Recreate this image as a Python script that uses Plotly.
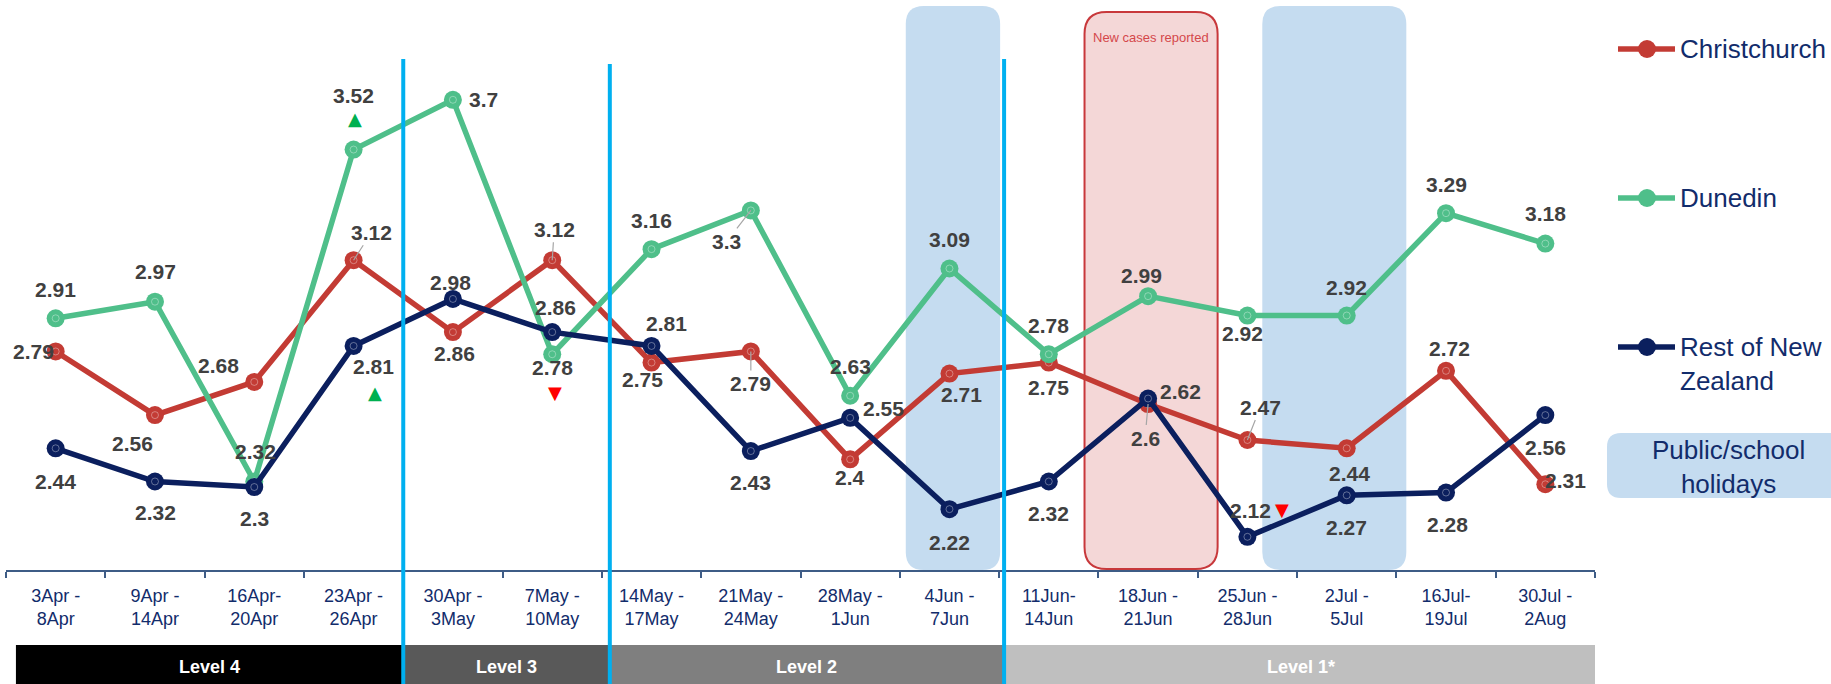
import plotly.graph_objects as go

# ---------------- data ----------------
periods = [
    "3Apr -<br>8Apr", "9Apr -<br>14Apr", "16Apr-<br>20Apr", "23Apr -<br>26Apr",
    "30Apr -<br>3May", "7May -<br>10May", "14May -<br>17May", "21May -<br>24May",
    "28May -<br>1Jun", "4Jun -<br>7Jun", "11Jun-<br>14Jun", "18Jun -<br>21Jun",
    "25Jun -<br>28Jun", "2Jul -<br>5Jul", "16Jul-<br>19Jul", "30Jul -<br>2Aug",
]
christchurch = [2.79, 2.56, 2.68, 3.12, 2.86, 3.12, 2.75, 2.79, 2.40, 2.71, 2.75, 2.60, 2.47, 2.44, 2.72, 2.31]
dunedin = [2.91, 2.97, 2.32, 3.52, 3.70, 2.78, 3.16, 3.30, 2.63, 3.09, 2.78, 2.99, 2.92, 2.92, 3.29, 3.18]
rest_of_nz = [2.44, 2.32, 2.30, 2.81, 2.98, 2.86, 2.81, 2.43, 2.55, 2.22, 2.32, 2.62, 2.12, 2.27, 2.28, 2.56]
series_names = ["Christchurch", "Dunedin", "Rest of New Zealand"]
legend_texts = ["Christchurch", "Dunedin", "Rest of New<br>Zealand"]
level_names = ["Level 4", "Level 3", "Level 2", "Level 1*"]

# ---------------- canvas geometry ----------------
W, H = 1831, 684
ML, MR, MT, MB = 6, 236, 6, 114
PW, PH = W - ML - MR, H - MT - MB
X_RANGE = [-0.5, len(periods) - 0.5]
Y_RANGE = [2.0, 4.039]


def paper_x(px):
    return (px - ML) / PW


def paper_y(py):
    return (H - MB - py) / PH


FONT = "Liberation Sans, Arial, sans-serif"
NAVY_TEXT = "#122C6B"
LABEL_GREY = "#404040"
AXIS_COLOR = "#3E5C86"
DIVIDER = "#00B0F0"
HOLIDAY_FILL = "#C5DCF0"

colors = ["#C33B34", "#4FBF8A", "#0B1F5E"]
values = [christchurch, dunedin, rest_of_nz]

# label offsets in pixels (dx right, dy down) from each point
label_offsets = [
    [(-22, 0), (-22, 28), (-36, -16), (18, -28), (2, 21), (2, -31), (-9, 17), (0, 32),
     (0, 18), (12, 21), (0, 25), (-3, 34), (13, -33), (3, 25), (3, -22), (20, -4)],
    [(0, -29), (1, -30), (1, -30), (0, -54), (31, 0), (0, 13), (0, -29), (-24, 31),
     (0, -29), (0, -29), (0, -29), (-7, -21), (-5, 18), (0, -28), (0, -29), (0, -30)],
    [(0, 33), (1, 31), (0, 31), (20, 21), (-2, -16), (3, -25), (15, -22), (0, 31),
     (33, -9), (0, 33), (0, 32), (32, -7), (3, -26), (0, 32), (1, 32), (0, 32)],
]
leader_points = [{3, 5, 7, 11, 12}, {7}, set()]

# change indicators: (series index, point index, glyph, colour, dx, dy)
trend_marks = [
    (1, 3, "▲", "#00B050", 1, -31),
    (2, 3, "▲", "#00B050", 21, 47),
    (1, 5, "▼", "#FF0000", 3, 38),
    (2, 12, "▼", "#FF0000", 35, -27),
]

# shaded periods (in category units)
holiday_spans = [(8.56, 9.51), (12.15, 13.6)]
new_cases_span = (10.36, 11.70)
level_spans = [(-0.40, 3.5), (3.5, 5.58), (5.58, 9.55), (9.55, 15.6)]
level_colors = ["#000000", "#595959", "#7F7F7F", "#BFBFBF"]
divider_tops = [(3.5, 59), (5.58, 64), (9.55, 59)]


def rounded_path(x0, x1, y0, y1, rx, ry):
    return (f"M {x0 + rx},{y0} L {x1 - rx},{y0} Q {x1},{y0} {x1},{y0 + ry} "
            f"L {x1},{y1 - ry} Q {x1},{y1} {x1 - rx},{y1} L {x0 + rx},{y1} "
            f"Q {x0},{y1} {x0},{y1 - ry} L {x0},{y0 + ry} Q {x0},{y0} {x0 + rx},{y0} Z")


def data_radius(r_px):
    rx = r_px * (X_RANGE[1] - X_RANGE[0]) / PW
    ry = r_px * (Y_RANGE[1] - Y_RANGE[0]) / PH
    return rx, ry


fig = go.Figure()
xs = list(range(len(periods)))

for name, vals, col in zip(series_names, values, colors):
    fig.add_trace(go.Scatter(
        x=xs, y=vals, name=name, mode="lines+markers",
        line=dict(color=col, width=5.5),
        marker=dict(size=18, color=col),
        hoverinfo="skip",
    ))
    fig.add_trace(go.Scatter(
        x=xs, y=vals, mode="markers", showlegend=False, hoverinfo="skip",
        marker=dict(size=7, symbol="circle-open", color="rgba(255,255,255,0.35)",
                    line=dict(width=1, color="rgba(255,255,255,0.35)")),
    ))

shapes = []
# school holiday bands
rx, ry = data_radius(18)
for x0, x1 in holiday_spans:
    shapes.append(dict(type="path", xref="x", yref="y", layer="below",
                       path=rounded_path(x0, x1, Y_RANGE[0], Y_RANGE[1], rx, ry),
                       fillcolor=HOLIDAY_FILL, line=dict(width=0)))
# new cases band
rx, ry = data_radius(22)
nc_top = Y_RANGE[0] + (H - MB - 12) * (Y_RANGE[1] - Y_RANGE[0]) / PH
shapes.append(dict(type="path", xref="x", yref="y", layer="below",
                   path=rounded_path(new_cases_span[0], new_cases_span[1], Y_RANGE[0] + 0.004, nc_top, rx, ry),
                   fillcolor="#F4D7D7", line=dict(color="#C8383B", width=2)))

# alert level bars below the axis
for (x0, x1), col in zip(level_spans, level_colors):
    shapes.append(dict(type="rect", xref="x", yref="paper", x0=x0, x1=x1,
                       y0=paper_y(645), y1=paper_y(700), fillcolor=col, line=dict(width=0), layer="above"))
# level divider lines
for xv, top in divider_tops:
    shapes.append(dict(type="line", xref="x", yref="paper", x0=xv, x1=xv,
                       y0=paper_y(top), y1=paper_y(700), line=dict(color=DIVIDER, width=4), layer="above"))

# legend
legend_rows = [49, 198, 347]
for col, row in zip(colors, legend_rows):
    shapes.append(dict(type="line", xref="paper", yref="paper",
                       x0=paper_x(1618), x1=paper_x(1675), y0=paper_y(row), y1=paper_y(row),
                       line=dict(color=col, width=5.5)))
    shapes.append(dict(type="circle", xref="paper", yref="paper", xsizemode="pixel", ysizemode="pixel",
                       xanchor=paper_x(1647), yanchor=paper_y(row), x0=-9, x1=9, y0=-9, y1=9,
                       fillcolor=col, line=dict(width=0)))
# holiday key box
shapes.append(dict(type="path", xref="paper", yref="paper",
                   path=rounded_path(paper_x(1607), paper_x(1870), paper_y(498), paper_y(433),
                                     14 / PW, 14 / PH),
                   fillcolor=HOLIDAY_FILL, line=dict(width=0)))

annotations = []
for s, (vals, offs) in enumerate(zip(values, label_offsets)):
    for i, (v, (dx, dy)) in enumerate(zip(vals, offs)):
        ann = dict(x=i, y=v, xref="x", yref="y", text=f"{v:g}",
                   font=dict(family=FONT, size=21, color=LABEL_GREY, weight="bold"))
        if i in leader_points[s]:
            ann.update(showarrow=True, ax=dx, ay=dy, arrowhead=0, arrowwidth=1.2,
                       arrowcolor="#A6A6A6", standoff=0, startstandoff=0)
        else:
            ann.update(showarrow=False, xshift=dx, yshift=-dy)
        annotations.append(ann)

for s, i, glyph, col, dx, dy in trend_marks:
    annotations.append(dict(x=i, y=values[s][i], xref="x", yref="y", text=glyph, showarrow=False,
                            xanchor="center", yanchor="middle",
                            xshift=dx, yshift=-dy, font=dict(family="DejaVu Sans", size=18, color=col)))

annotations.append(dict(x=sum(new_cases_span) / 2, y=paper_y(37), xref="x", yref="paper",
                        text="New cases reported", showarrow=False, xanchor="center", yanchor="middle",
                        font=dict(family=FONT, size=13, color="#D4484B")))

for (x0, x1), name in zip(level_spans, level_names):
    xc = (x0 + min(x1, 15.53)) / 2
    annotations.append(dict(x=xc, y=paper_y(667), xref="x", yref="paper", text=name, showarrow=False,
                            xanchor="center", yanchor="middle",
                            font=dict(family=FONT, size=18, color="white", weight="bold")))

legend_centres = [49, 198, 364]
for txt, yc in zip(legend_texts, legend_centres):
    annotations.append(dict(x=paper_x(1678), y=paper_y(yc), xref="paper", yref="paper", text=txt,
                            showarrow=False, xanchor="left", yanchor="middle", align="left",
                            font=dict(family=FONT, size=26, color=NAVY_TEXT)))
annotations.append(dict(x=paper_x(1728), y=paper_y(467), xref="paper", yref="paper",
                        text="Public/school<br>holidays", showarrow=False, align="center",
                        xanchor="center", yanchor="middle",
                        font=dict(family=FONT, size=26, color=NAVY_TEXT)))

fig.update_layout(
    width=W, height=H,
    margin=dict(l=ML, r=MR, t=MT, b=MB),
    plot_bgcolor="white", paper_bgcolor="white",
    showlegend=False,
    shapes=shapes, annotations=annotations,
    xaxis=dict(
        range=X_RANGE, tickmode="array", tickvals=xs, ticktext=periods,
        ticks="", showline=True, linecolor=AXIS_COLOR, linewidth=2,
        showgrid=False, zeroline=False, ticklabelstandoff=8,
        tickfont=dict(family=FONT, size=18, color=NAVY_TEXT),
        minor=dict(tickmode="array", tickvals=[i - 0.5 for i in range(len(periods) + 1)],
                   ticks="outside", ticklen=6, tickwidth=2, tickcolor=AXIS_COLOR, showgrid=False),
    ),
    yaxis=dict(range=Y_RANGE, visible=False, showgrid=False, zeroline=False),
)

fig.write_html("out.html")
